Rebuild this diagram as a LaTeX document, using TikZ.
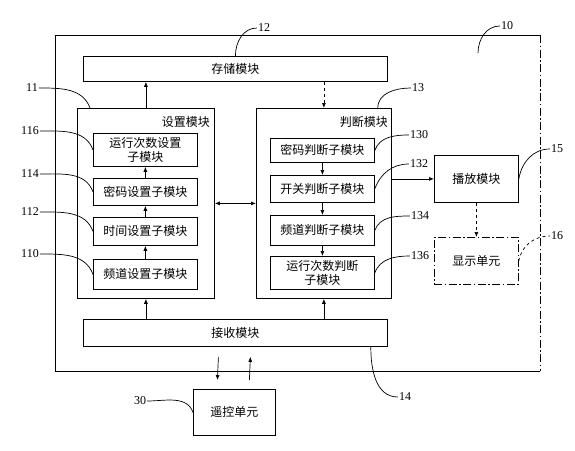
\documentclass[tikz,border=0pt]{standalone}
\usepackage{fontspec}
\setmainfont{Liberation Serif}
\newfontfamily\cjk{Noto Sans CJK SC}
\usetikzlibrary{arrows.meta}
\begin{document}
\begin{tikzpicture}[x=1pt,y=-1pt,
  box/.style={draw, line width=0.8pt, inner sep=0pt, anchor=north west, align=center,
    font=\cjk\fontsize{12}{14}\selectfont},
  ttl/.style={inner sep=0pt, font=\cjk\fontsize{12}{14}\selectfont},
  num/.style={inner sep=1pt, font=\fontsize{12}{13}\selectfont},
  arr/.style={-{Latex[length=5pt,width=4pt]}, line width=0.7pt},
  lead/.style={line width=0.7pt},
  dashdot/.style={dash pattern=on 8pt off 2.5pt on 1.5pt off 2.5pt}]
\useasboundingbox (0,0) rectangle (575,450);
% outer system box 10
\node[draw=none, inner sep=0pt, anchor=north west, minimum width=485pt, minimum height=336pt] (sys) at (55,35) {};
\draw[line width=0.8pt] (sys.north east) -- (sys.north west) -- (sys.south west) -- (sys.south east);
\draw[line width=0.8pt, dashdot] (sys.north east) -- (sys.south east);
% modules
\node[box, minimum width=304pt, minimum height=25pt] (store) at (83,56) {存储模块};
\node[box, minimum width=137pt, minimum height=190pt] (set) at (77,108) {};
\node[ttl, anchor=east] (setT) at (210,122) {设置模块};
\node[box, minimum width=135pt, minimum height=190pt] (judge) at (256,108) {};
\node[ttl, anchor=east] (judgeT) at (388,122) {判断模块};
\node[box, minimum width=104pt, minimum height=33pt] (s116) at (93,133) {运行次数设置\\子模块};
\node[box, minimum width=104pt, minimum height=27pt] (s114) at (93,178) {密码设置子模块};
\node[box, minimum width=104pt, minimum height=28pt] (s112) at (93,217) {时间设置子模块};
\node[box, minimum width=104pt, minimum height=30pt] (s110) at (93,259) {频道设置子模块};
\node[box, minimum width=104pt, minimum height=24pt] (j130) at (270,138) {密码判断子模块};
\node[box, minimum width=104pt, minimum height=27pt] (j132) at (270,175) {开关判断子模块};
\node[box, minimum width=104pt, minimum height=30pt] (j134) at (270,215) {频道判断子模块};
\node[box, minimum width=104pt, minimum height=33pt] (j136) at (270,256) {运行次数判断\\子模块};
\node[box, minimum width=304pt, minimum height=27pt] (recv) at (83,319) {接收模块};
\node[box, minimum width=84pt, minimum height=47pt] (play) at (434,155) {播放模块};
\node[box, dashdot, minimum width=84pt, minimum height=47pt] (disp) at (434,237) {显示单元};
\node[box, minimum width=82pt, minimum height=46pt] (remote) at (193,389) {遥控单元};
% arrows
\draw[arr] (set.north) -- (set.north |- store.south);
\draw[arr, dashed] (judge.north |- store.south) -- (judge.north);
\draw[arr] (s110.north) -- (s112.south);
\draw[arr] (s112.north) -- (s114.south);
\draw[arr] (s114.north) -- (s116.south);
\draw[arr] (j130.south) -- (j132.north);
\draw[arr] (j132.south) -- (j134.north);
\draw[arr] (j134.south) -- (j136.north);
\draw[arr] (recv.north -| set.south) -- (set.south);
\draw[arr] (recv.north -| judge.south) -- (judge.south);
\draw[{Latex[length=5pt,width=4pt]}-{Latex[length=5pt,width=4pt]}, line width=0.7pt] (set.east) -- (judge.west);
\draw[arr] (judge.east |- play.west) -- (play.west);
\draw[arr, dashed] (play.south) -- (disp.north);
\draw[arr] ([xshift=-17pt,yshift=-10pt]recv.south) -- ([xshift=-17pt,yshift=9pt]remote.north);
\draw[arr] ([xshift=15pt,yshift=9pt]remote.north) -- ([xshift=15pt,yshift=-10pt]recv.south);
% labels
\node[num] (n12) at (264,28) {12};
\node[num] (n10) at (507,26) {10};
\node[num] (n11) at (32,88) {11};
\node[num] (n13) at (418,88) {13};
\node[num] (n116) at (30,131) {116};
\node[num] (n114) at (30,174) {114};
\node[num] (n112) at (30,212) {112};
\node[num] (n110) at (30,254) {110};
\node[num] (n130) at (419,135) {130};
\node[num] (n132) at (419,164) {132};
\node[num] (n134) at (420,216) {134};
\node[num] (n136) at (420,256) {136};
\node[num] (n15) at (557,149) {15};
\node[num] (n16) at (557,236) {16};
\node[num] (n14) at (405,397) {14};
\node[num] (n30) at (140,401) {30};
\coordinate (c10) at (478,53);
% leaders
\draw[lead] (store.north) to[out=90,in=180] (n12.west);
\draw[lead] (c10) to[out=90,in=180] (n10.west);
\draw[lead] (n11.east) to[out=0,in=110] ([xshift=13pt]set.north west);
\draw[lead] ([xshift=-14pt]judge.north east) to[out=90,in=180] (n13.west);
\draw[lead] (n116.east) to[out=0,in=110] (s116.west);
\draw[lead] (n114.east) to[out=0,in=110] (s114.west);
\draw[lead] (n112.east) to[out=0,in=110] (s112.west);
\draw[lead] (n110.east) to[out=0,in=110] (s110.west);
\draw[lead] (j130.east) to[out=70,in=180] (n130.west);
\draw[lead] (j132.east) to[out=70,in=180] (n132.west);
\draw[lead] (j134.east) to[out=70,in=180] (n134.west);
\draw[lead] (j136.east) to[out=70,in=180] (n136.west);
\draw[lead] (play.east) to[out=80,in=180] (n15.west);
\draw[lead, dashed] (disp.east) to[out=80,in=180] (n16.west);
\draw[lead] ([xshift=-17pt]recv.south east) to[out=-90,in=180] (n14.west);
\draw[lead] (n30.east) to[out=0,in=110] (remote.west);
\end{tikzpicture}
\end{document}
